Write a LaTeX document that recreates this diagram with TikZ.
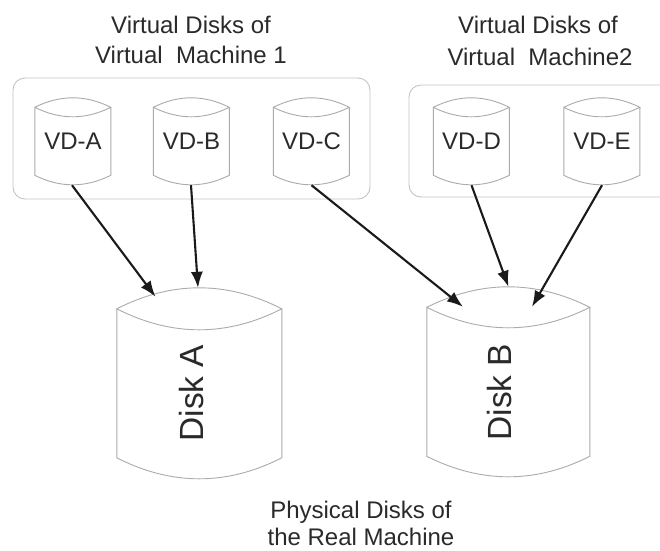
\documentclass[tikz,border=0pt]{standalone}
\usepackage{fontspec}
\setmainfont{Liberation Sans}
\usetikzlibrary{arrows.meta,calc}
\definecolor{txt}{HTML}{2A2A2A}
\definecolor{cylc}{HTML}{ABABAB}
\definecolor{boxc}{HTML}{C4C4C4}
\definecolor{arrc}{HTML}{1A1A1A}
\newcommand\cylshape[4]{% node name, width, height (peak to peak), sagitta
  \begin{scope}[shift={(#1.north west)}, x=1pt, y=-1pt]
    \draw[cylline] (0,#4) .. controls (#2/3,-#4/3) and (2*#2/3,-#4/3) .. (#2,#4)
      .. controls (2*#2/3,7*#4/3) and (#2/3,7*#4/3) .. (0,#4)
      -- (0,#3-#4) .. controls (#2/3,#3+#4/3) and (2*#2/3,#3+#4/3) .. (#2,#3-#4)
      -- (#2,#4);
  \end{scope}}
\tikzset{
  cylline/.style={draw=cylc, line width=0.9pt},
  boxline/.style={draw=boxc, line width=0.9pt, rounded corners=12pt},
  smallcyl/.style={inner sep=0pt, minimum width=76pt, minimum height=87pt,
    text=txt, font=\fontsize{24}{29}\selectfont},
  bigcyl/.style={inner sep=0pt, minimum height=191pt},
  disktext/.style={inner sep=0pt, rotate=90, text=txt, font=\fontsize{33.5}{40}\selectfont},
  titletext/.style={inner sep=0pt, anchor=base, text=txt, font=\fontsize{24}{29}\selectfont},
  arr/.style={draw=arrc, line width=2.1pt, -{Latex[length=16pt,width=12pt]}},
}
\begin{document}
\begin{tikzpicture}[x=1pt, y=-1pt]
\useasboundingbox[fill=white] (0,0) rectangle (660,550);
% group boxes
\draw[boxline] (13,78) rectangle (370,199);
\draw[boxline] (662,85) -- (409,85) -- (409,197) -- (662,197);
% titles
\node[titletext] (t1a) at (191,33) {Virtual Disks of};
\node[titletext] (t1b) at (191,63) {Virtual\ \ Machine 1};
\node[titletext] (t2a) at (538,33) {Virtual Disks of};
\node[titletext] (t2b) at (540,65) {Virtual\ \ Machine2};
\node[titletext] (t3a) at (361,518) {Physical Disks of};
\node[titletext] (t3b) at (361,545) {the Real Machine};
% virtual disks
\node[smallcyl] (vdA) at (73,141.5) {VD-A};
\node[smallcyl] (vdB) at (191.5,141.5) {VD-B};
\node[smallcyl] (vdC) at (311.5,141.5) {VD-C};
\node[smallcyl] (vdD) at (471.5,141.5) {VD-D};
\node[smallcyl] (vdE) at (602,141.5) {VD-E};
\cylshape{vdA}{76}{87}{9.5}
\cylshape{vdB}{76}{87}{9.5}
\cylshape{vdC}{76}{87}{9.5}
\cylshape{vdD}{76}{87}{9.5}
\cylshape{vdE}{76}{87}{9.5}
% physical disks
\node[bigcyl, minimum width=165pt] (dA) at (199.5,383.5) {};
\node[bigcyl, minimum width=163pt, minimum height=190pt] (dB) at (508.5,382) {};
\cylshape{dA}{165}{191}{21}
\cylshape{dB}{163}{190}{20.5}
\node[disktext] (dAt) at (192,393) {Disk A};
\node[disktext] (dBt) at (500,392) {Disk B};
% connectors
\draw[arr] ([xshift=-1pt]vdA.south) -- ([shift={(-44pt,-9pt)}]dA.north);
\draw[arr] ([xshift=-0.5pt]vdB.south) -- ([xshift=-1.5pt]dA.north);
\draw[arr] (vdC.south) -- ([shift={(-45.5pt,-20pt)}]dB.north);
\draw[arr] (vdD.south) -- (dB.north);
\draw[arr] (vdE.south) -- ([shift={(23.5pt,-20pt)}]dB.north);
\end{tikzpicture}
\end{document}
